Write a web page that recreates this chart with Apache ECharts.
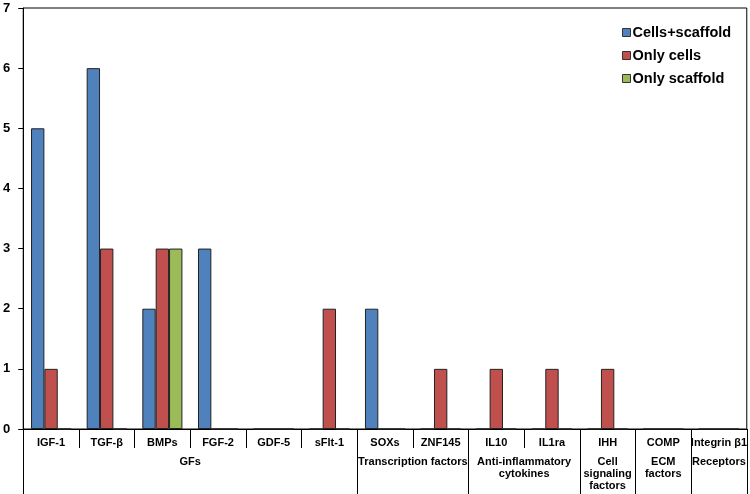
<!DOCTYPE html>
<html>
<head>
<meta charset="utf-8">
<script src="https://cdn.jsdelivr.net/npm/echarts@6/dist/echarts.min.js"></script>
<style>
html,body{margin:0;padding:0;background:#fff;}
#chart{width:750px;height:494px;}
</style>
</head>
<body>
<div id="chart"></div>
<script>
const categories = ['IGF-1','TGF-β','BMPs','FGF-2','GDF-5','sFlt-1','SOXs','ZNF145','IL10','IL1ra','IHH','COMP','Integrin β1'];
const seriesNames = ['Cells+scaffold','Only cells','Only scaffold'];
const cellsScaffold = [5,6,2,3,0,0,2,0,0,0,0,0,0];
const onlyCells     = [1,3,3,0,0,2,0,1,1,1,1,0,0];
const onlyScaffold  = [0,0,3,0,0,0,0,0,0,0,0,0,0];
const groupNames = ['GFs','Transcription factors','Anti-inflammatory\ncytokines','Cell\nsignaling\nfactors','ECM\nfactors','Receptors'];
const groupSizes = [6,2,2,1,1,1];
const yTicks = [0,1,2,3,4,5,6,7];

const colors = ['#4F81BD','#C0504D','#9BBB59'];
const FONT = "'Liberation Sans', Arial, sans-serif";

// group boundaries and centres in category units
const groupBounds = [0];
const groupCenters = [];
groupSizes.forEach(s => { const a = groupBounds[groupBounds.length-1]; groupCenters.push(a + s/2); groupBounds.push(a + s); });

const chart = echarts.init(document.getElementById('chart'), null, {renderer:'canvas'});
const dataSets = [cellsScaffold, onlyCells, onlyScaffold];

chart.setOption({
  animation: false,
  color: colors,
  textStyle: {fontFamily: FONT},
  grid: {left: 22, right: 3, top: 8, bottom: 65, show: true, borderColor: '#000', borderWidth: 1, backgroundColor: 'transparent'},
  legend: {
    orient: 'vertical', left: 617, top: 20,
    itemWidth: 8, itemHeight: 8, itemGap: 8,
    icon: 'rect',
    textStyle: {fontFamily: FONT, fontSize: 14.5, fontWeight: 'bold', color: '#000', padding: [0,0,0,-3]},
    data: seriesNames.map((n,i) => ({name: n, itemStyle: {color: colors[i], borderColor: '#333', borderWidth: 1}}))
  },
  xAxis: [
    {
      type: 'category', data: categories, position: 'bottom',
      axisLine: {lineStyle: {color: '#000', width: 1}},
      axisTick: {show: true, length: 19, interval: 0, lineStyle: {color: '#000'}},
      axisLabel: {interval: 0, margin: 8, color: '#000', fontFamily: FONT, fontSize: 11, fontWeight: 'bold'}
    },
    {
      type: 'value', min: 0, max: categories.length, position: 'bottom',
      axisLine: {show: false},
      splitLine: {show: false},
      axisTick: {show: true, customValues: groupBounds, length: 65, lineStyle: {color: '#000'}},
      axisLabel: {
        customValues: groupCenters, margin: 27, color: '#000', fontFamily: FONT, fontSize: 11, fontWeight: 'bold', lineHeight: 12,
        formatter: v => { const i = groupCenters.indexOf(v); return i >= 0 ? groupNames[i] : ''; }
      }
    }
  ],
  yAxis: {
    type: 'value', min: yTicks[0], max: yTicks[yTicks.length-1], interval: 1,
    axisLine: {show: true, lineStyle: {color: '#000'}},
    axisTick: {show: true, length: 5, lineStyle: {color: '#000'}},
    splitLine: {show: false},
    axisLabel: {margin: 13, color: '#000', fontFamily: FONT, fontSize: 13, fontWeight: 'bold'}
  },
  series: seriesNames.map((n,i) => ({
    name: n, type: 'bar', xAxisIndex: 0,
    data: dataSets[i],
    barGap: '0%', barCategoryGap: '28%',
    itemStyle: {color: colors[i], borderColor: '#222', borderWidth: 1}
  }))
});
</script>
</body>
</html>
